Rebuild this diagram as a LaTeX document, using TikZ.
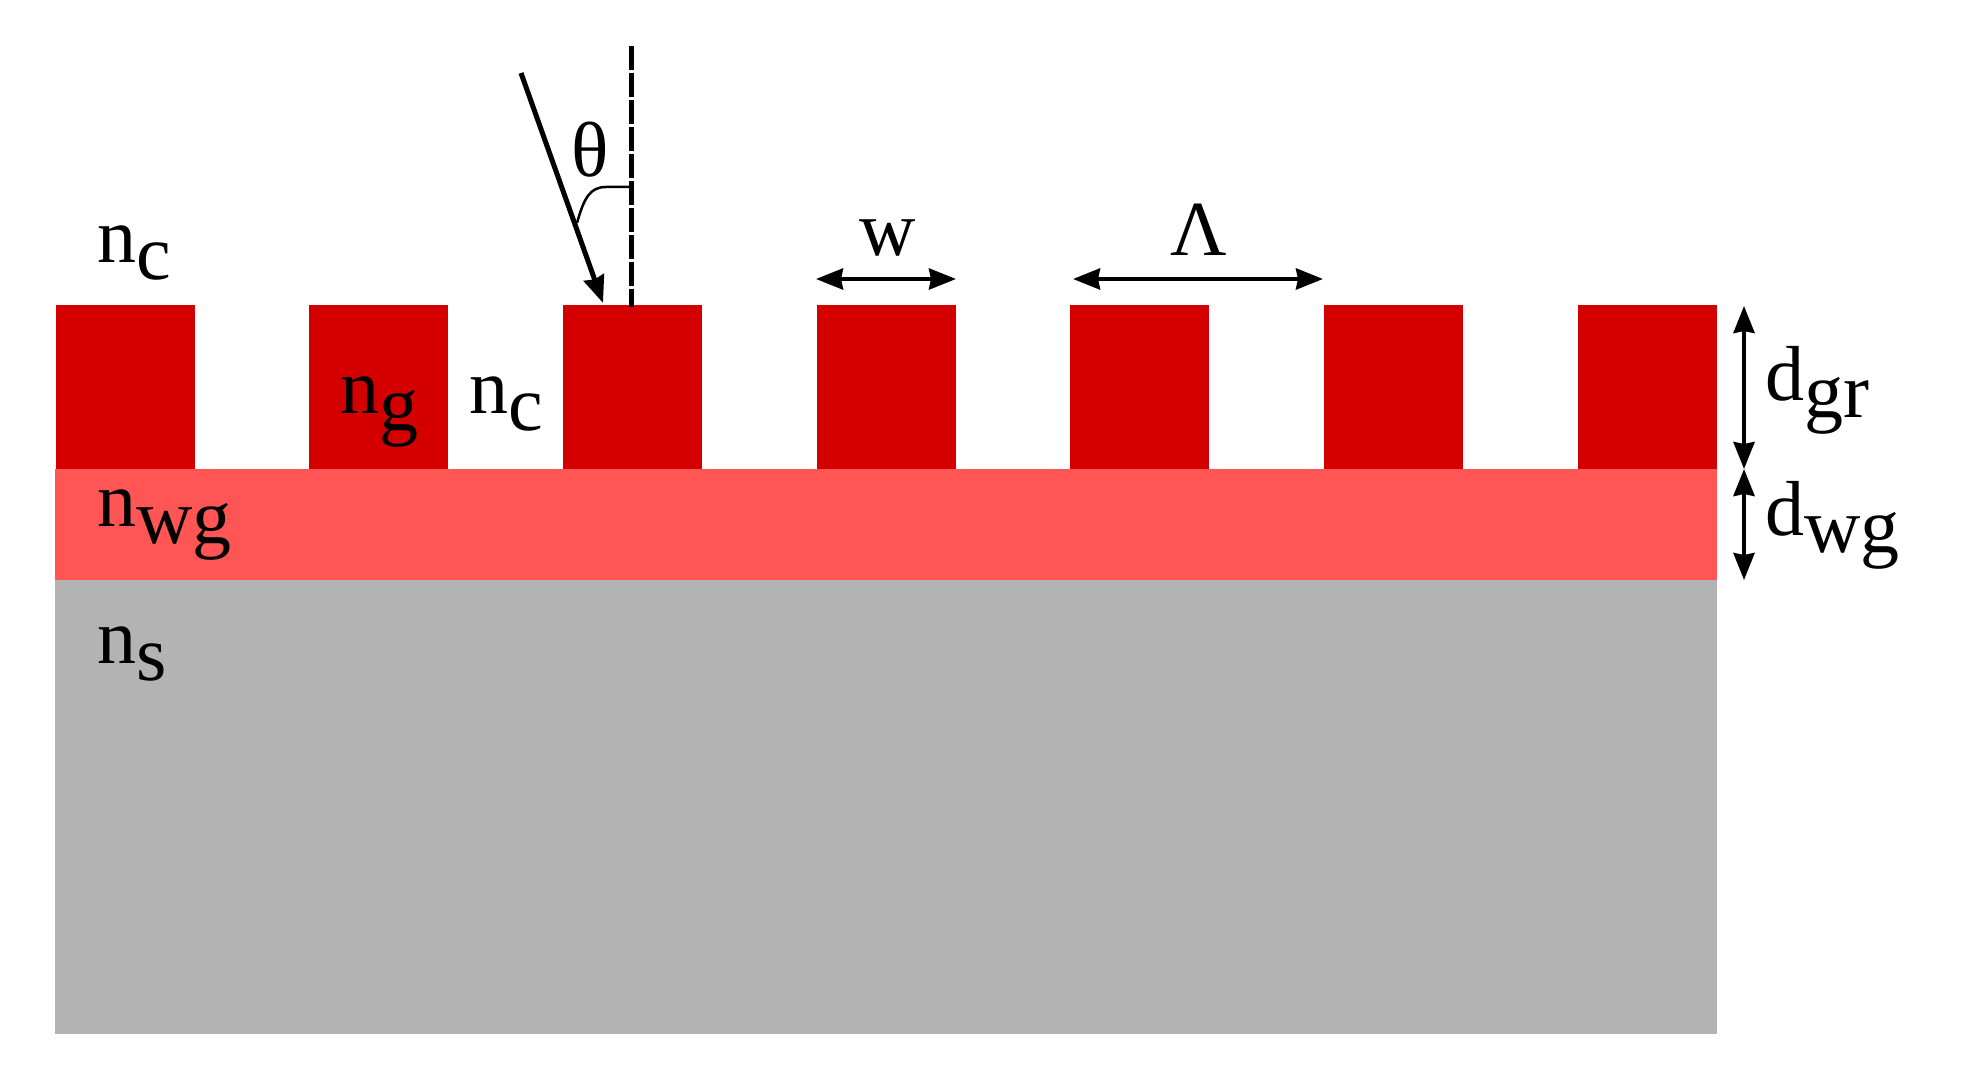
\documentclass[tikz,border=0pt]{standalone}
\usepackage{fontspec}
\setmainfont{Liberation Serif}
\usetikzlibrary{arrows.meta}
\definecolor{barred}{HTML}{D40000}
\definecolor{wgred}{HTML}{FF5555}
\definecolor{subgray}{HTML}{B3B3B3}
\newcommand{\lowr}[1]{\raisebox{-17pt}{#1}}
\tikzset{
  x=1pt,y=-1pt,
  barbox/.style={fill=barred,draw=none},
  lab/.style={anchor=base west,inner sep=0pt,outer sep=0pt,font=\fontsize{78pt}{78pt}\selectfont},
  dimline/.style={line width=4pt,{Stealth[length=27pt,width=21pt,inset=2pt]}-{Stealth[length=27pt,width=21pt,inset=2pt]}},
  raytip/.style={line width=5pt,-{Stealth[length=27pt,width=21pt,inset=2pt]}},
}
\begin{document}
\begin{tikzpicture}
\useasboundingbox (0,0) rectangle (1962,1086);
\fill[subgray] (55,580) rectangle (1717,1034);
\fill[wgred] (55,469) rectangle (1717,580);
\foreach \i/\xx in {1/56,2/309,3/563,4/816.5,5/1070,6/1323.5,7/1578}{
  \fill[barbox] (\xx,305) rectangle ++(139,164);
}
\node[lab] (nc1) at (97,262) {n\lowr{c}};
\node[lab] (ng) at (340,413) {n\lowr{g}};
\node[lab] (nc2) at (469.5,413) {n\lowr{c}};
\node[lab] (nwg) at (97,526) {n\lowr{wg}};
\node[lab] (ns) at (97,663) {n\lowr{s}};
\node[lab] (dgr) at (1765.5,400) {d\lowr{gr}};
\node[lab] (dwg) at (1765.5,535) {d\lowr{wg}};
\node[lab,anchor=base] (theta) at (590,177) {θ};
\node[lab,anchor=base] (w) at (888,255) {w};
\node[lab,anchor=base] (lam) at (1198.5,255) {Λ};
\coordinate (rs) at (521,73);
\coordinate (re) at (603,303);
\coordinate (ns1) at (631,46);
\coordinate (ns2) at (631,307);
\coordinate (a1) at (631,187);
\coordinate (a2) at (577,223);
\coordinate (wl) at (816,279);
\coordinate (wr) at (956,279);
\coordinate (ll) at (1073,279);
\coordinate (lr) at (1323,279);
\coordinate (d1) at (1744,306);
\coordinate (d2) at (1744,469);
\coordinate (d3) at (1744,580);
\draw[raytip] (rs) -- (re);
\draw[line width=5pt,dash pattern=on 24.3pt off 2.7pt] (ns1) -- (ns2);
\draw[line width=2.5pt] (a1) -- (606,187) .. controls (590,187) and (584,198) .. (a2);
\draw[dimline] (wl) -- (wr);
\draw[dimline] (ll) -- (lr);
\draw[dimline] (d1) -- (d2);
\draw[dimline] (d2) -- (d3);
\end{tikzpicture}
\end{document}
